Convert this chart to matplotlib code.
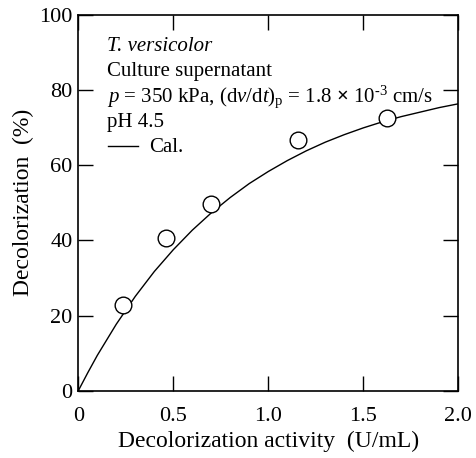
import matplotlib
matplotlib.use("Agg")
import matplotlib.pyplot as plt

plt.rcParams['font.family'] = ['Liberation Serif', 'DejaVu Serif']
plt.rcParams['mathtext.fontset'] = 'custom'
plt.rcParams['mathtext.rm'] = 'Liberation Serif'
plt.rcParams['mathtext.it'] = 'Liberation Serif:italic'
plt.rcParams['mathtext.bf'] = 'Liberation Serif:bold'

# Experimental data
activity = [0.237, 0.46, 0.697, 1.158, 1.623]
decolorization = [22.7, 40.5, 49.6, 66.7, 72.4]

# Calculated curve
cal_x = [0, 0.05, 0.1, 0.2, 0.3, 0.4, 0.5, 0.6, 0.7, 0.8, 0.9, 1.0, 1.1, 1.2, 1.3, 1.4, 1.5, 1.6, 1.7, 1.8, 1.9, 2.0]
cal_y = [0, 4.8, 9.4, 17.7, 25.1, 31.7, 37.5, 42.7, 47.3, 51.4, 55.1, 58.3, 61.2, 63.8, 66.1, 68.1, 69.9, 71.5, 72.9, 74.1, 75.3, 76.3]

xticks = [0, 0.5, 1.0, 1.5, 2.0]
xticklabels = ['0', '0.5', '1.0', '1.5', '2.0']
yticks = [0, 20, 40, 60, 80, 100]

fig = plt.figure(figsize=(4.76, 4.58), dpi=100)
ax = fig.add_axes([0.1645, 0.1469, 0.7983, 0.8210])

ax.plot(cal_x, cal_y, color='black', lw=1.0, zorder=2)
ax.plot(activity, decolorization, linestyle='none', marker='o', markersize=12,
        markerfacecolor='white', markeredgecolor='black', markeredgewidth=1.0, zorder=3)

ax.set_xlim(0, 2.0)
ax.set_ylim(0, 100)
ax.set_xticks(xticks)
ax.set_xticklabels(xticklabels)
ax.set_yticks(yticks)
ax.tick_params(direction='in', length=11, width=1.0, top=True, right=True,
               labelsize=16, colors='black')
ax.tick_params(axis='y', pad=4)
ax.tick_params(axis='x', pad=12)
for s in ax.spines.values():
    s.set_linewidth(1.2)

ax.set_xlabel('Decolorization activity  (U/mL)', fontsize=17, labelpad=3)
ax.set_ylabel('Decolorization  (%)', fontsize=17, labelpad=3.5)

def px(x, y):
    return fig.transFigure.inverted().transform((x, 458 - y))

lines = [
    ('T. versicolor', 50.7, 'italic'),
    ('Culture supernatant', 76.0, 'normal'),
    ('$p$ = 350 kPa, (d$v$/d$t$)$_{\\mathrm{p}}$ = 1.8 $\\mathbf{\\times}$ 10$^{\\text{-3}}$ cm/s', 101.7, 'normal'),
    ('pH 4.5', 126.7, 'normal'),
]
for txt, yb, st in lines:
    fx, fy = px(107, yb)
    fig.text(fx, fy, txt, fontsize=15, ha='left', va='baseline', fontstyle=st)

# legend entry
x0, y0 = px(108, 146)
x1, _ = px(138, 146)
fig.add_artist(matplotlib.lines.Line2D([x0, x1], [y0, y0], color='black', lw=1.0,
                                       transform=fig.transFigure))
fx, fy = px(149, 151.7)
fig.text(fx, fy, 'Cal.', fontsize=15, ha='left', va='baseline')

fig.savefig('out.png', dpi=100)
